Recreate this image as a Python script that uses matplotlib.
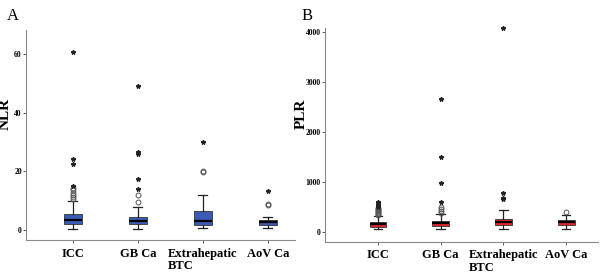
import matplotlib
matplotlib.use('Agg')
import matplotlib.pyplot as plt

groups = ['ICC', 'GB Ca', 'Extrahepatic\nBTC', 'AoV Ca']

# NLR (panel A)
nlr_lo = [0.4, 0.45, 0.6, 0.7]
nlr_q1 = [2.05, 2.1, 1.8, 1.6]
nlr_med = [3.3, 3.1, 3.1, 2.7]
nlr_q3 = [5.35, 4.6, 6.6, 3.5]
nlr_hi = [10.0, 7.7, 11.9, 4.4]
nlr_circles = [[10.6, 11.2, 12.0, 12.8, 13.6, 14.2],
               [9.7, 11.8],
               [19.7, 20.2],
               [8.5, 9.0]]
nlr_stars = [[15.2, 22.4, 24.1, 60.8],
             [14.0, 17.4, 25.8, 26.5, 49.2],
             [29.9],
             [13.3]]

# PLR (panel B)
plr_lo = [54, 60, 54, 60]
plr_q1 = [107, 127, 140, 147]
plr_med = [154, 180, 200, 194]
plr_q3 = [194, 227, 260, 240]
plr_hi = [314, 350, 440, 347]
plr_circles = [[330, 350, 370, 390, 410, 430, 450, 470],
               [380, 420, 460, 500],
               [],
               [394]]
plr_stars = [[490, 510, 530, 560, 600],
             [600, 980, 1500, 2660],
             [654, 687, 780, 4070],
             []]

serif = ['Liberation Serif', 'DejaVu Serif']


def draw(ax, lo, q1, med, q3, hi, circles, stars, color, yticks, ylim, xlim, ylabel):
    stats = []
    for i in range(len(groups)):
        stats.append({'whislo': lo[i], 'q1': q1[i], 'med': med[i], 'q3': q3[i],
                      'whishi': hi[i], 'fliers': circles[i]})
    pos = list(range(1, len(groups) + 1))
    ax.bxp(stats, positions=pos, widths=0.27, patch_artist=True,
           boxprops=dict(facecolor=color, edgecolor='#333333', linewidth=0.6),
           medianprops=dict(color='black', linewidth=1.6),
           whiskerprops=dict(color='#222222', linewidth=0.9),
           capprops=dict(color='#222222', linewidth=0.9),
           capwidths=0.14,
           flierprops=dict(marker='o', markerfacecolor='none', markeredgecolor='#555555',
                           markersize=3.5, markeredgewidth=0.7))
    for i, s in enumerate(stars):
        ax.plot([pos[i]] * len(s), s, linestyle='none', marker='*', color='#222222',
                markersize=3.2, clip_on=False)
    ax.set_xlim(*xlim)
    ax.set_ylim(*ylim)
    ax.set_yticks(yticks)
    ax.set_xticks(pos)
    ax.set_xticklabels(groups, fontsize=9, fontweight='bold', family=serif,
                       multialignment='left', linespacing=1.05)
    for t in ax.get_yticklabels():
        t.set_fontsize(5.5)
        t.set_fontweight('bold')
        t.set_family(serif)
    ax.set_ylabel(ylabel, fontsize=11, fontweight='bold', family=serif)
    ax.spines['top'].set_visible(False)
    ax.spines['right'].set_visible(False)
    ax.spines['left'].set_color('#888888')
    ax.spines['bottom'].set_color('#888888')
    ax.tick_params(axis='y', length=2, width=0.6, pad=1, color='#444444')
    ax.tick_params(axis='x', length=2, width=0.6, pad=3.5, color='#444444')


fig = plt.figure(figsize=(6, 2.74), dpi=100)
ax1 = fig.add_axes([0.0433, 0.124, 0.448, 0.766])
ax2 = fig.add_axes([0.5417, 0.118, 0.455, 0.780])

draw(ax1, nlr_lo, nlr_q1, nlr_med, nlr_q3, nlr_hi, nlr_circles, nlr_stars,
     '#3a5bb4', [0, 20, 40, 60], (-3.4, 68.2), (0.277, 4.415), 'NLR')
draw(ax2, plr_lo, plr_q1, plr_med, plr_q3, plr_hi, plr_circles, plr_stars,
     '#e3262d', [0, 1000, 2000, 3000, 4000], (-194, 4080), (0.155, 4.51), 'PLR')

ax1.yaxis.set_label_coords(-0.053, 0.6)
ax2.yaxis.set_label_coords(-0.064, 0.6)

fig.text(0.012, 0.97, 'A', fontsize=12, family=serif, va='top')
fig.text(0.503, 0.97, 'B', fontsize=12, family=serif, va='top')

fig.savefig('out.png', dpi=100)
